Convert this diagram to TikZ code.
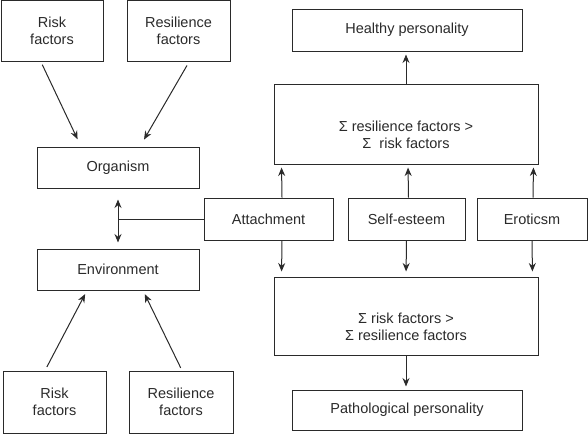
\documentclass[tikz,border=0pt]{standalone}
\usepackage{fontspec}
\setmainfont{Liberation Sans}
\usetikzlibrary{arrows.meta}
\definecolor{strekfarge}{HTML}{2A2A2A}

\begin{document}
\begin{tikzpicture}[x=1pt, y=-1pt,
		boks/.style={draw=strekfarge, line width=1pt, align=center, inner sep=0pt,
			text=strekfarge, font=\fontsize{14.5}{17}\selectfont},
		strek/.style={draw=strekfarge, line width=1pt},
		pil/.style={strek, -{Stealth[length=8.5pt,width=7pt]}},
		dobbelpil/.style={strek, {Stealth[length=8.5pt,width=7pt]}-{Stealth[length=8.5pt,width=7pt]}}]
		\useasboundingbox (0,0) rectangle (588,434);

		% Faktorer over og under
		\node[boks, minimum width=102pt, minimum height=61pt] (risikoA) at (52,31) {Risk\\factors};
		\node[boks, minimum width=103pt, minimum height=61pt] (resilA) at (178.5,31) {Resilience\\factors};
		\node[boks, minimum width=103pt, minimum height=62pt] (risikoB) at (54.5,402) {Risk\\factors};
		\node[boks, minimum width=104pt, minimum height=62pt] (resilB) at (181,402) {Resilience\\factors};

		% Organisme og miljø
		\node[boks, minimum width=162pt, minimum height=41pt] (organisme) at (118,167.5) {Organism};
		\node[boks, minimum width=162pt, minimum height=41pt] (miljo) at (118,269.5) {Environment};

		% Tilknytning, selvfølelse, erotikk
		\node[boks, minimum width=129pt, minimum height=42pt] (tilknytning) at (268.5,219) {Attachment};
		\node[boks, minimum width=117pt, minimum height=42pt] (selv) at (406.5,219) {Self-esteem};
		\node[boks, minimum width=110pt, minimum height=42pt] (erotikk) at (532,219) {Eroticsm};

		% Summer og personlighet
		\node[boks, minimum width=264pt, minimum height=80pt] (sumres) at (406,124) {\mbox{}\\[16pt]Σ resilience factors >\\Σ~ risk factors};
		\node[boks, minimum width=264pt, minimum height=78pt] (sumrisk) at (406,316) {\mbox{}\\[16pt]Σ risk factors >\\Σ resilience factors};
		\node[boks, minimum width=230pt, minimum height=42pt] (sunn) at (407,30) {Healthy personality};
		\node[boks, minimum width=230pt, minimum height=40pt] (patol) at (407,410) {Pathological personality};

		% Piler til organisme og miljø
		\draw[pil, shorten <=3pt, shorten >=8pt] ([xshift=-11pt]risikoA.south) -- ([xshift=-37pt]organisme.north);
		\draw[pil, shorten <=4pt, shorten >=8pt] ([xshift=10.5pt]resilA.south) -- ([xshift=22pt]organisme.north);
		\draw[pil, shorten <=4pt, shorten >=4pt] ([xshift=-9.5pt]risikoB.north) -- ([xshift=-31pt]miljo.south);
		\draw[pil, shorten <=3pt, shorten >=4pt] ([xshift=1pt]resilB.north) -- ([xshift=25pt]miljo.south);

		% Dobbeltpil og kobling til tilknytning
		\draw[dobbelpil, shorten <=11pt, shorten >=6pt] (organisme.south) -- (miljo.north);
		\draw[strek] (tilknytning.west) -- (tilknytning.west -| organisme.south);

		% Piler opp
		\draw[pil, shorten >=3pt] ([xshift=13.5pt]tilknytning.north) -- ([xshift=8pt]sumres.south west);
		\draw[pil, shorten >=3pt] ([xshift=2pt]selv.north) -- ([xshift=2pt]sumres.south);
		\draw[pil, shorten >=3pt] ([xshift=1pt]erotikk.north) -- ([xshift=-5pt]sumres.south east);
		\draw[pil, shorten >=3pt] (sumres.north) -- (sumres.north |- sunn.south);

		% Piler ned
		\draw[pil, shorten >=5pt] ([xshift=13.5pt]tilknytning.south) -- ([xshift=8pt]sumrisk.north west);
		\draw[pil, shorten >=5pt] (selv.south) -- (sumrisk.north);
		\draw[pil, shorten >=5pt] (erotikk.south) -- ([xshift=-6pt]sumrisk.north east);
		\draw[pil, shorten >=3pt] (sumrisk.south) -- (sumrisk.south |- patol.north);
	\end{tikzpicture}
\end{document}
